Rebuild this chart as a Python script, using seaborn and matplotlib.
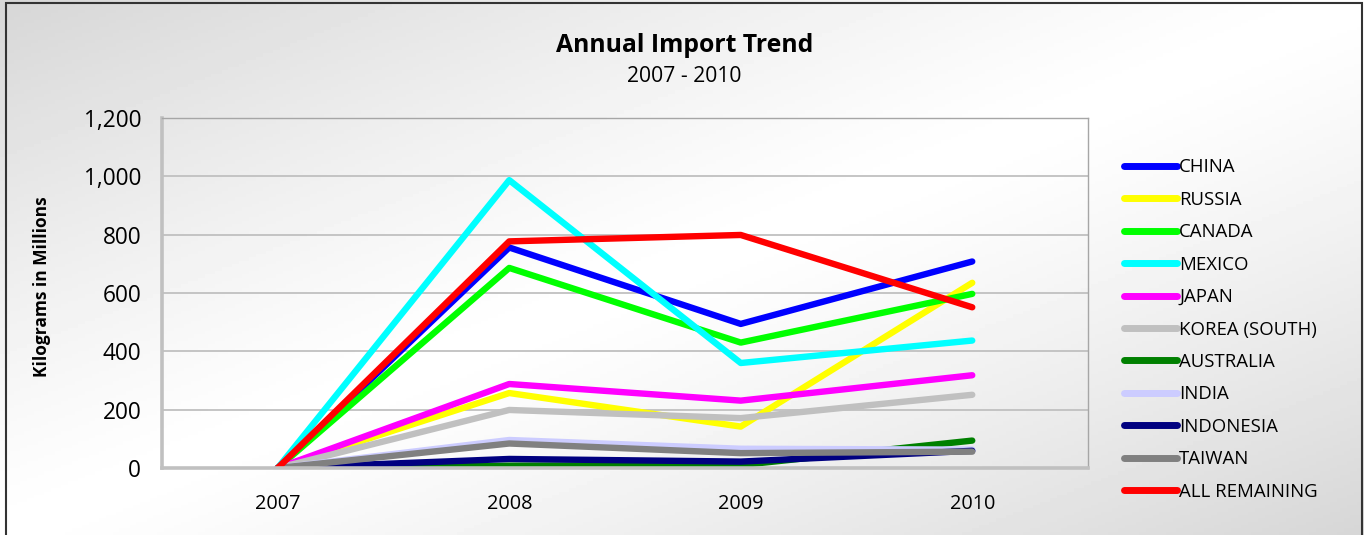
import matplotlib
import matplotlib.pyplot as plt
import numpy as np
import pandas as pd
import seaborn as sns
from matplotlib.lines import Line2D
from matplotlib.patches import Rectangle
from matplotlib.ticker import FuncFormatter

matplotlib.use("Agg")

years = ['2007', '2008', '2009', '2010']
countries = ['CHINA', 'RUSSIA', 'CANADA', 'MEXICO', 'JAPAN', 'KOREA (SOUTH)',
             'AUSTRALIA', 'INDIA', 'INDONESIA', 'TAIWAN', 'ALL REMAINING']
colors = ['#0000ff', '#ffff00', '#00ff00', '#00ffff', '#ff00ff', '#c0c0c0',
          '#008000', '#ccccff', '#000080', '#808080', '#ff0000']

china = [0, 756, 494, 708]
russia = [0, 257, 142, 635]
canada = [0, 686, 430, 597]
mexico = [0, 987, 360, 437]
japan = [0, 288, 231, 318]
korea = [0, 199, 171, 251]
australia = [0, 8, 10, 94]
india = [0, 96, 66, 63]
indonesia = [0, 31, 22, 59]
taiwan = [0, 84, 51, 56]
all_remaining = [0, 777, 799, 551]

series = [china, russia, canada, mexico, japan, korea,
          australia, india, indonesia, taiwan, all_remaining]

rows = []
for name, vals in zip(countries, series):
    for yr, v in zip(years, vals):
        rows.append({'year': yr, 'country': name, 'kg': v})
df = pd.DataFrame(rows)

sns.set_style('white')
plt.rcParams['font.family'] = ['Open Sans', 'DejaVu Sans']
plt.rcParams['text.color'] = 'black'
plt.rcParams['xtick.color'] = 'black'
plt.rcParams['ytick.color'] = 'black'

W, H = 1364, 535
fig = plt.figure(figsize=(W / 100, H / 100), dpi=100)

# soft diagonal gradient background
bg = fig.add_axes([0, 0, 1, 1], zorder=-10)
xx, yy = np.meshgrid(np.linspace(0, 1, 400), np.linspace(0, 1, 160))
d = np.abs((xx + yy) - 1.0)
grad = 1.0 - 0.16 * d ** 1.2
bg.imshow(grad, cmap='gray', vmin=0, vmax=1, aspect='auto', extent=[0, 1, 0, 1])
bg.axis('off')

ax = fig.add_axes([162 / W, 1 - 468 / H, (1088 - 162) / W, (468 - 118) / H])
ax.set_facecolor('none')

palette = dict(zip(countries, colors))
sns.lineplot(data=df, x='year', y='kg', hue='country', hue_order=countries,
             palette=palette, lw=4.6, sort=False, legend=False, ax=ax,
             solid_capstyle='round')

ax.set_xlim(-0.5, 3.5)
ax.set_ylim(0, 1200)
ax.set_yticks(range(0, 1201, 200))
ax.yaxis.set_major_formatter(FuncFormatter(lambda v, p: f'{int(v):,}'))
ax.grid(axis='y', color='#c0c0c0', lw=1.3)
ax.set_axisbelow(True)
ax.tick_params(axis='y', length=0, pad=15, labelsize=16.3)
ax.tick_params(axis='x', length=0, pad=19, labelsize=14.3)
ax.set_xlabel('')
ax.set_ylabel('')
for side in ['left', 'bottom']:
    ax.spines[side].set_color('#c0c0c0')
    ax.spines[side].set_linewidth(2.6)
for side in ['top', 'right']:
    ax.spines[side].set_color('#a6a6a6')
    ax.spines[side].set_linewidth(1.0)

fig.text(0.502, 1 - 46 / H, 'Annual Import Trend', ha='center', va='center',
         fontsize=17.8, fontweight='bold')
fig.text(0.502, 1 - 76 / H, '2007 - 2010', ha='center', va='center', fontsize=15.2)
fig.text(42 / W, 1 - 287 / H, 'Kilograms in Millions', ha='center', va='center',
         rotation=90, fontsize=12.5, fontweight='bold')

handles = [Line2D([0], [0], color=c, lw=5, solid_capstyle='round') for c in colors]
fig.legend(handles, countries, loc='upper left', bbox_to_anchor=(1117 / W, 1 - 151 / H),
           frameon=False, fontsize=13.4, handlelength=2.8, handletextpad=0.15,
           labelspacing=0.775, borderaxespad=0)

fig.patches.append(Rectangle((6 / W, -0.1), (1362 - 6) / W, 1.1 - 3 / H,
                             transform=fig.transFigure, fill=False,
                             edgecolor='#333333', lw=1.5))

plt.savefig('out.png', dpi=100)
